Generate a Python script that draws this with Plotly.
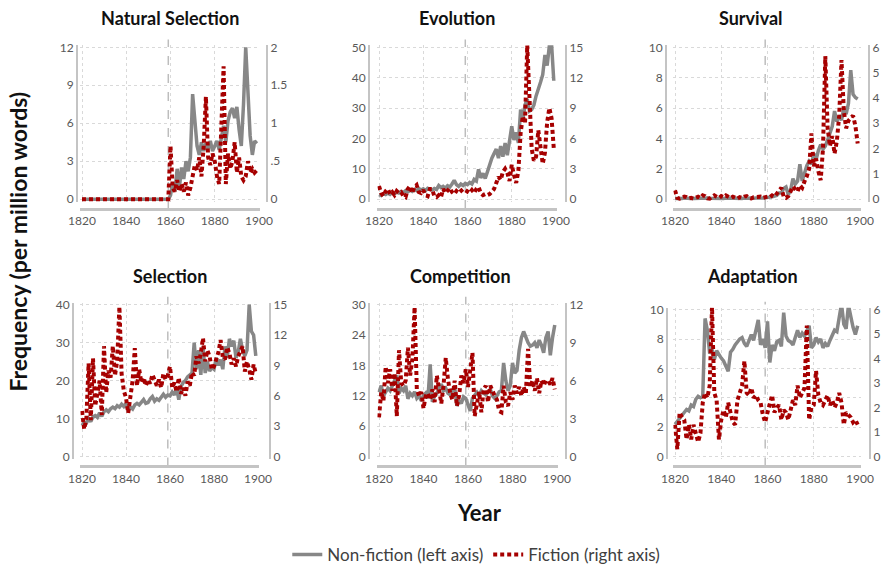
import plotly.graph_objects as go

W, H = 882, 573
YEARS = list(range(1820, 1900))
ORIGIN_YEAR = 1859

# ---- Natural Selection ----
NATSEL_NONFIC = [0.0] * 40 + [
    0.3, 1.3, 0.6, 2.4, 0.9, 2.5, 1.6, 3.0, 2.2, 3.3,
    8.3, 6.5, 4.2, 3.5, 4.5, 3.8, 4.4, 4.0, 4.6, 3.8,
    4.2, 4.6, 3.9, 5.0, 5.8, 4.5, 6.2, 6.9, 7.2, 6.4,
    7.3, 5.5, 4.2, 7.5, 12.0, 8.5, 5.0, 3.5, 4.6, 4.4]
NATSEL_FIC = [0.0] * 40 + [
    0.7, 0.15, 0.1, 0.25, 0.1, 0.2, 0.1, 0.22, 0.05, 0.15,
    0.3, 0.45, 0.38, 0.55, 0.3, 0.7, 1.35, 0.55, 0.45, 0.6,
    0.5, 0.3, 0.2, 0.95, 1.75, 0.2, 0.6, 0.4, 0.5, 0.75,
    0.35, 0.55, 0.3, 0.25, 0.3, 0.5, 0.35, 0.4, 0.35, 0.38]

# ---- Evolution ----
EVO_NONFIC = [
    1.5, 1.2, 1.8, 1.5, 2.0, 1.6, 2.2, 1.8, 2.3, 2.0,
    2.5, 2.2, 2.8, 2.4, 3.0, 2.6, 3.2, 2.8, 3.5, 3.0,
    3.4, 2.8, 3.6, 3.2, 3.0, 3.5, 3.2, 4.5, 3.8, 4.2,
    3.6, 4.4, 4.0, 5.0, 6.2, 4.8, 4.2, 5.0, 4.5, 5.2,
    4.8, 5.5, 5.0, 6.5, 6.0, 9.8, 7.0, 8.5, 6.8, 9.0,
    11.5, 13.5, 15.0, 16.5, 13.5, 17.5, 14.0, 18.5, 14.5, 19.5,
    24.0, 19.5, 22.0, 18.5, 29.5, 26.0, 31.0, 33.0, 29.0, 29.5,
    31.0, 34.0, 36.0, 38.5, 41.0, 47.5, 44.0, 50.5, 51.0, 39.0]
EVO_FIC = [
    1.3, 0.6, 0.3, 0.8, 1.0, 0.5, 0.7, 0.4, 0.8, 0.6,
    0.7, 0.3, 0.2, 1.0, 1.3, 0.6, 1.2, 1.4, 0.7, 0.6,
    0.9, 0.4, 0.3, 1.0, 1.0, 0.3, 0.2, 0.4, 0.2, 1.0,
    0.6, 0.8, 1.1, 0.7, 0.5, 0.8, 0.6, 0.8, 1.0, 0.9,
    0.7, 0.6, 0.9, 0.6, 1.0, 1.2, 0.6, 0.4, 0.5, 0.4,
    0.5, 0.7, 1.0, 1.6, 2.2, 1.9, 2.7, 3.0, 2.6, 1.8,
    3.4, 2.4, 1.6, 2.8, 6.5, 8.2, 7.5, 15.2, 9.5, 5.0,
    3.8, 4.2, 6.8, 5.2, 3.5, 4.6, 7.6, 9.0, 8.0, 5.0]

# ---- Survival ----
SURV_NONFIC = [
    0.05, 0.04, 0.06, 0.05, 0.07, 0.05, 0.06, 0.04, 0.05, 0.06,
    0.05, 0.07, 0.06, 0.05, 0.08, 0.06, 0.05, 0.07, 0.06, 0.05,
    0.06, 0.05, 0.07, 0.06, 0.05, 0.06, 0.08, 0.07, 0.06, 0.05,
    0.07, 0.06, 0.08, 0.07, 0.06, 0.08, 0.07, 0.09, 0.08, 0.1,
    0.1, 0.1, 0.15, 0.2, 0.25, 0.4, 0.4, 0.7, 0.8, 0.3,
    0.6, 1.35, 1.0, 1.2, 2.3, 1.2, 1.8, 2.2, 2.5, 2.3,
    3.0, 2.6, 3.2, 3.6, 3.3, 3.5, 3.9, 4.3, 4.8, 5.8,
    5.1, 5.5, 5.2, 6.0, 5.6, 6.3, 8.5, 6.9, 6.7, 6.6]
SURV_FIC = [
    0.35, 0.05, 0.02, 0.05, 0.1, 0.08, 0.03, 0.05, 0.02, 0.06,
    0.1, 0.05, 0.15, 0.12, 0.03, 0.02, 0.08, 0.15, 0.1, 0.05,
    0.12, 0.08, 0.15, 0.1, 0.05, 0.1, 0.05, 0.02, 0.08, 0.05,
    0.1, 0.12, 0.05, 0.03, 0.08, 0.1, 0.12, 0.1, 0.05, 0.08,
    0.1, 0.08, 0.15, 0.1, 0.2, 0.35, 0.45, 0.1, 0.05, 0.12,
    0.3, 0.5, 0.4, 0.3, 0.55, 0.45, 0.7, 0.9, 1.2, 2.6,
    1.3, 1.6, 1.1, 0.75, 2.0, 5.65, 2.8, 2.1, 2.5, 1.8,
    2.3, 3.3, 5.5, 3.5, 2.8, 3.1, 3.2, 3.3, 2.9, 2.2]

# ---- Selection ----
SEL_NONFIC = [
    8.2, 9.0, 8.8, 10.0, 9.2, 10.5, 10.8, 10.3, 11.5, 10.6,
    11.8, 12.3, 11.8, 12.6, 13.0, 12.6, 13.4, 13.0, 13.8, 13.2,
    14.0, 12.0, 13.0, 12.5, 13.6, 14.0, 13.6, 14.5, 15.0, 14.0,
    14.2, 15.2, 15.8, 14.6, 15.2, 14.8, 15.8, 16.4, 15.6, 16.2,
    16.0, 17.0, 16.2, 18.0, 15.0, 18.5, 19.5, 20.0, 21.0, 21.5,
    22.0, 30.0, 23.0, 28.0, 21.5, 29.0, 22.0, 25.0, 22.5, 23.5,
    23.0, 26.0, 24.0, 25.5, 23.0, 29.0, 26.0, 31.0, 29.0, 30.5,
    26.0, 27.5, 31.0, 28.0, 26.5, 28.0, 40.0, 33.0, 32.0, 26.5]
SEL_FIC = [
    4.5, 2.7, 3.8, 9.2, 3.6, 9.7, 5.0, 6.3, 7.5, 4.1,
    10.9, 6.3, 8.5, 7.8, 10.9, 8.0, 9.5, 14.8, 8.2, 6.5,
    5.8, 4.3, 6.0, 7.5, 10.7, 7.0, 8.6, 7.3, 7.8, 7.0,
    7.6, 7.2, 8.1, 7.4, 7.0, 7.6, 6.8, 8.2, 7.6, 8.0,
    8.9, 6.8, 7.3, 6.4, 7.8, 6.2, 6.8, 6.0, 7.4, 7.0,
    8.3, 8.0, 9.9, 9.2, 10.2, 11.7, 9.4, 10.5, 9.9, 8.6,
    8.9, 9.6, 10.3, 11.5, 9.8, 9.6, 10.8, 10.2, 9.1, 9.7,
    8.9, 9.9, 10.3, 10.9, 8.4, 9.4, 8.6, 7.6, 9.1, 8.2]

# ---- Competition ----
COMP_NONFIC = [
    12.7, 14.0, 12.0, 12.7, 13.5, 13.0, 14.0, 14.6, 16.0, 12.5,
    13.5, 13.0, 14.0, 11.4, 12.5, 12.0, 12.8, 11.5, 12.0, 11.0,
    12.0, 12.5, 11.5, 18.2, 10.8, 12.0, 12.5, 13.5, 14.3, 13.0,
    13.5, 12.5, 12.2, 13.0, 13.8, 10.0, 11.0, 10.5, 11.8, 11.5,
    10.0, 9.0, 11.5, 12.0, 12.7, 12.0, 13.0, 12.5, 12.2, 12.8,
    13.3, 12.0, 11.5, 12.0, 12.8, 13.0, 18.5, 15.0, 13.0, 14.0,
    18.5, 16.5, 17.0, 21.0, 23.5, 24.7, 23.5, 22.5, 21.8, 22.0,
    22.5, 21.5, 23.0, 22.0, 20.5, 23.5, 24.7, 20.0, 23.5, 26.0]
COMP_FIC = [
    3.1, 5.1, 4.4, 7.1, 5.8, 6.9, 5.2, 6.6, 3.2, 8.4,
    5.8, 5.6, 6.0, 8.6, 6.4, 7.7, 11.8, 5.3, 4.8, 5.1,
    3.8, 4.8, 5.0, 4.5, 5.3, 4.3, 6.4, 5.0, 4.2, 5.6,
    7.8, 6.1, 5.0, 4.5, 6.0, 4.0, 4.8, 6.4, 5.8, 6.9,
    5.5, 6.8, 8.2, 3.2, 4.3, 5.1, 3.5, 5.3, 5.6, 4.3,
    5.6, 5.1, 4.8, 4.5, 3.6, 3.5, 5.6, 4.3, 4.0, 5.1,
    4.5, 5.6, 5.0, 5.5, 4.8, 5.5, 5.0, 8.5, 5.5, 6.0,
    5.2, 6.2, 5.0, 6.0, 5.6, 6.0, 6.0, 5.7, 6.2, 5.3]

# ---- Adaptation ----
ADAPT_NONFIC = [
    2.2, 2.4, 2.6, 2.8, 3.0, 3.2, 3.1, 3.5, 3.4, 3.9,
    4.1, 4.0, 4.1, 9.4, 8.6, 7.0, 7.3, 6.6, 7.2, 6.9,
    6.7, 6.5, 6.2, 5.8, 7.1, 7.3, 7.6, 7.8, 8.0, 8.1,
    7.7, 7.5, 7.9, 8.3, 7.9, 8.6, 9.3, 7.6, 8.0, 7.4,
    9.2, 6.4, 7.6, 7.2, 7.8, 7.9, 7.5, 9.8, 8.2, 7.9,
    7.8, 7.6, 8.2, 8.6, 8.1, 8.4, 8.2, 8.5, 8.9, 7.4,
    7.6, 8.1, 7.8, 8.0, 7.4, 7.7, 7.5, 7.9, 8.3, 8.6,
    8.5, 9.3, 10.4, 9.0, 8.7, 10.3, 9.5, 8.8, 8.3, 8.9]
ADAPT_FIC = [
    1.3, 0.3, 1.8, 1.6, 1.5, 0.7, 1.3, 0.7, 1.3, 0.9,
    0.6, 0.95, 2.2, 2.6, 2.4, 2.9, 6.1, 2.6, 2.3, 0.7,
    1.5, 1.9, 1.6, 2.2, 1.7, 1.4, 1.3, 2.3, 2.6, 2.9,
    3.9, 2.6, 2.5, 2.8, 2.4, 2.5, 2.3, 2.2, 1.7, 1.4,
    1.8, 2.1, 2.5, 1.8, 2.0, 2.1, 1.5, 1.9, 1.8, 1.5,
    1.9, 2.3, 2.1, 2.9, 2.4, 2.6, 2.8, 5.35, 1.5, 2.0,
    2.1, 3.5, 2.5, 2.2, 2.1, 2.3, 2.5, 2.1, 2.3, 2.0,
    2.2, 2.6, 2.2, 1.3, 1.8, 1.7, 1.6, 1.4, 1.5, 1.3]

TITLES = ["Natural Selection", "Evolution", "Survival",
          "Selection", "Competition", "Adaptation"]
NONFIC = [NATSEL_NONFIC, EVO_NONFIC, SURV_NONFIC, SEL_NONFIC, COMP_NONFIC, ADAPT_NONFIC]
FIC = [NATSEL_FIC, EVO_FIC, SURV_FIC, SEL_FIC, COMP_FIC, ADAPT_FIC]

LEFT_TICKS = [
    [0, 3, 6, 9, 12],
    [0, 10, 20, 30, 40, 50],
    [0, 2, 4, 6, 8, 10],
    [0, 10, 20, 30, 40],
    [0, 6, 12, 18, 24, 30],
    [0, 2, 4, 6, 8, 10],
]
RIGHT_TICKS = [
    [0, 0.5, 1, 1.5, 2],
    [0, 3, 6, 9, 12, 15],
    [0, 1, 2, 3, 4, 5, 6],
    [0, 3, 6, 9, 12, 15],
    [0, 3, 6, 9, 12],
    [0, 1, 2, 3, 4, 5, 6],
]
RIGHT_LABELS = [
    ["0", ".5", "1", "1.5", "2"],
    ["0", "3", "6", "9", "12", "15"],
    ["0", "1", "2", "3", "4", "5", "6"],
    ["0", "3", "6", "9", "12", "15"],
    ["0", "3", "6", "9", "12"],
    ["0", "1", "2", "3", "4", "5", "6"],
]
X_TICKS = [1820, 1840, 1860, 1880, 1900]

# pixel layout of each panel: (x of 1820, x of 1900, left axis x, right axis x,
#                              y of zero, y of top tick, baseline y, title centre x)
PANELS = [
    (82, 259, 77, 267, 202, 48, 212, 170),
    (379, 556, 369, 566, 202, 48, 212, 457),
    (675, 860, 666, 869, 202, 48, 212, 751),
    (82, 258, 73, 270, 463, 309, 473, 170),
    (379, 557, 369, 566, 463, 309, 473, 460),
    (675, 860, 667, 870, 463, 314, 473, 752),
]

GRAY = "#878787"
RED = "#a60000"
AXIS = "#c4c4c4"
GRID = "#d9d9d9"
TICKC = "#595959"
FONT = "Lato"


def px_x(p):
    return p / W


def px_y(p):
    return 1 - p / H


fig = go.Figure()
layout = dict(
    width=W, height=H, autosize=False,
    margin=dict(l=0, r=0, t=0, b=0),
    paper_bgcolor="white", plot_bgcolor="white",
    font=dict(family=FONT, color=TICKC, size=12),
    showlegend=True,
    legend=dict(orientation="h", x=0.54, xanchor="center", y=px_y(563), yanchor="middle",
                font=dict(size=17, color="#404040", family=FONT), itemwidth=30,
                bgcolor="rgba(0,0,0,0)"),
)
shapes = []
annotations = []

for i in range(6):
    x20, x00, xl, xr, y0, yt, yb, tx = PANELS[i]
    ppy = (x00 - x20) / 80.0
    xa0, xa1 = 1819.3, 1900.3
    dom_x = [px_x(x20 - (1820 - xa0) * ppy), px_x(x00 + (xa1 - 1900) * ppy)]
    bot_px, top_px = y0 + 3, yt - 2
    dom_y = [px_y(bot_px), px_y(top_px)]
    span = float(y0 - yt)
    L = LEFT_TICKS[i][-1]
    R = RIGHT_TICKS[i][-1]
    lrange = [-(bot_px - y0) / span * L, L + (yt - top_px) / span * L]
    rrange = [-(bot_px - y0) / span * R, R + (yt - top_px) / span * R]

    xn = "" if i == 0 else str(i + 1)
    yl = "" if i == 0 else str(2 * i + 1)
    yr = str(2 * i + 2)

    layout["xaxis" + xn] = dict(
        domain=dom_x, range=[xa0, xa1], anchor="free", position=px_y(yb),
        tickvals=X_TICKS, ticktext=[str(t) for t in X_TICKS],
        showline=True, linecolor=AXIS, linewidth=2.5,
        showgrid=True, gridcolor=GRID, griddash="dot", gridwidth=1,
        zeroline=False, ticks="", ticklen=0, automargin=False,
        tickfont=dict(size=12, color=TICKC, family=FONT),
    )
    layout["yaxis" + yl] = dict(
        domain=dom_y, range=lrange, anchor="free", position=px_x(xl), side="left",
        tickvals=LEFT_TICKS[i], ticktext=[str(t) for t in LEFT_TICKS[i]],
        showline=True, linecolor=AXIS, linewidth=2,
        showgrid=True, gridcolor=GRID, griddash="dot", gridwidth=1,
        zeroline=False, ticks="", automargin=False,
        tickfont=dict(size=12, color=TICKC, family=FONT),
    )
    layout["yaxis" + yr] = dict(
        domain=dom_y, range=rrange, anchor="free", position=px_x(xr), side="right",
        overlaying="y" + yl,
        tickvals=RIGHT_TICKS[i], ticktext=RIGHT_LABELS[i],
        showline=True, linecolor=AXIS, linewidth=2,
        showgrid=False, zeroline=False, ticks="", automargin=False,
        tickfont=dict(size=12, color=TICKC, family=FONT),
    )

    fig.add_trace(go.Scatter(
        x=YEARS, y=NONFIC[i], mode="lines", name="Non-fiction (left axis)",
        line=dict(color=GRAY, width=3.5), xaxis="x" + xn, yaxis="y" + yl,
        showlegend=(i == 0), legendgroup="nf", hoverinfo="skip"))
    fig.add_trace(go.Scatter(
        x=YEARS, y=FIC[i], mode="lines", name="Fiction (right axis)",
        line=dict(color=RED, width=4, dash="4px,3px"), xaxis="x" + xn, yaxis="y" + yr,
        showlegend=(i == 0), legendgroup="f", hoverinfo="skip"))

    shapes.append(dict(
        type="line", xref="x" + xn, yref="paper", x0=ORIGIN_YEAR, x1=ORIGIN_YEAR,
        y0=px_y(yb), y1=px_y(yt - 8), line=dict(color="#bdbdbd", width=1.5, dash="dash"),
        layer="below"))

    annotations.append(dict(
        text="<b>%s</b>" % TITLES[i], xref="paper", yref="paper",
        x=px_x(tx), y=px_y(18 if i < 3 else 280),
        xanchor="center", yanchor="middle", showarrow=False,
        font=dict(size=18, color="#111111", family=FONT)))

annotations.append(dict(
    text="<b>Frequency (per million words)</b>", xref="paper", yref="paper",
    x=px_x(18), y=px_y(245), textangle=-90, xanchor="center", yanchor="middle",
    showarrow=False, font=dict(size=23, color="#111111", family=FONT)))
annotations.append(dict(
    text="<b>Year</b>", xref="paper", yref="paper",
    x=px_x(479), y=px_y(520), xanchor="center", yanchor="middle",
    showarrow=False, font=dict(size=22, color="#111111", family=FONT)))

layout["shapes"] = shapes
layout["annotations"] = annotations
fig.update_layout(**layout)
fig.write_html("out.html")
